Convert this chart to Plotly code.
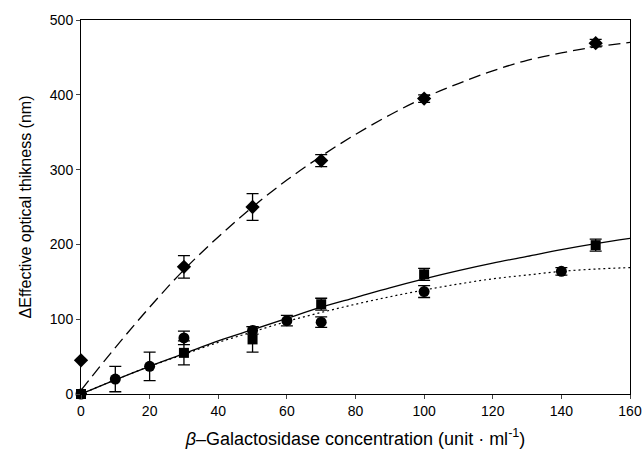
import plotly.graph_objects as go

# Fitted curves
fit_x = [0, 10, 20, 30, 40, 50, 60, 70, 80, 90, 100, 110, 120, 130, 140, 150, 160]
fit_dashed = [5, 62, 116, 166, 210, 250, 286, 318, 347, 373, 396, 415, 432, 446, 456, 464, 470]
fit_solid = [0, 19, 37, 54, 71, 86, 101, 116, 129, 142, 154, 165, 175, 184, 193, 201, 208]
fit_dotted = [0, 19, 37, 53, 69, 83, 97, 109, 120, 130, 139, 147, 154, 159, 164, 167, 169]

# Diamonds
dia_x = [0, 30, 50, 70, 100, 150]
dia_y = [45, 170, 250, 312, 395, 469]
dia_err = [0, 15, 18, 8, 5, 5]

# Squares
sq_x = [0, 30, 50, 70, 100, 150]
sq_y = [0, 55, 73, 120, 160, 199]
sq_err = [0, 16, 17, 8, 8, 8]

# Circles
ci_x = [0, 10, 20, 30, 50, 60, 70, 100, 140]
ci_y = [0, 20, 37, 75, 85, 98, 96, 137, 164]
ci_err = [0, 17, 19, 9, 5, 7, 7, 8, 5]

x_ticks = [0, 20, 40, 60, 80, 100, 120, 140, 160]
y_ticks = [0, 100, 200, 300, 400, 500]

fig = go.Figure()
fig.add_trace(go.Scatter(x=fit_x, y=fit_dashed, mode="lines", line_shape="spline",
                         line=dict(color="black", width=1.3, dash="12px,6px"), showlegend=False))
fig.add_trace(go.Scatter(x=fit_x, y=fit_solid, mode="lines", line_shape="spline",
                         line=dict(color="black", width=1.3), showlegend=False))
fig.add_trace(go.Scatter(x=fit_x, y=fit_dotted, mode="lines", line_shape="spline",
                         line=dict(color="black", width=1.2, dash="2px,3px"), showlegend=False))

err_style = dict(type="data", thickness=1.3, width=6, color="black")

fig.add_trace(go.Scatter(x=dia_x, y=dia_y, mode="markers", cliponaxis=False,
                         marker=dict(symbol="diamond", size=11, color="black"),
                         error_y=dict(array=dia_err, **err_style), showlegend=False))
fig.add_trace(go.Scatter(x=sq_x, y=sq_y, mode="markers", cliponaxis=False,
                         marker=dict(symbol="square", size=10, color="black"),
                         error_y=dict(array=sq_err, **err_style), showlegend=False))
fig.add_trace(go.Scatter(x=ci_x, y=ci_y, mode="markers", cliponaxis=False,
                         marker=dict(symbol="circle", size=11, color="black"),
                         error_y=dict(array=ci_err, **err_style), showlegend=False))

font_family = "Liberation Sans, Arial, sans-serif"
fig.update_layout(
    width=643, height=457,
    margin=dict(l=81, r=13, t=20, b=63),
    paper_bgcolor="white", plot_bgcolor="white",
    font=dict(family=font_family, color="black", size=14),
    xaxis=dict(range=[0, 160], tickvals=x_ticks, ticks="outside", ticklen=4,
               showline=True, linecolor="black", linewidth=1, mirror=True,
               showgrid=False, zeroline=False, automargin=False,
               title=dict(text="<i>β</i>–Galactosidase concentration (unit · ml<sup>-1</sup>)",
                          font=dict(size=18), standoff=14)),
    yaxis=dict(range=[0, 500], tickvals=y_ticks, ticks="outside", ticklen=4,
               showline=True, linecolor="black", linewidth=1, mirror=True,
               showgrid=False, zeroline=False, automargin=False,
               title=dict(text="ΔEffective optical thikness (nm)", font=dict(size=16), standoff=14)),
)

fig.write_html("out.html")
